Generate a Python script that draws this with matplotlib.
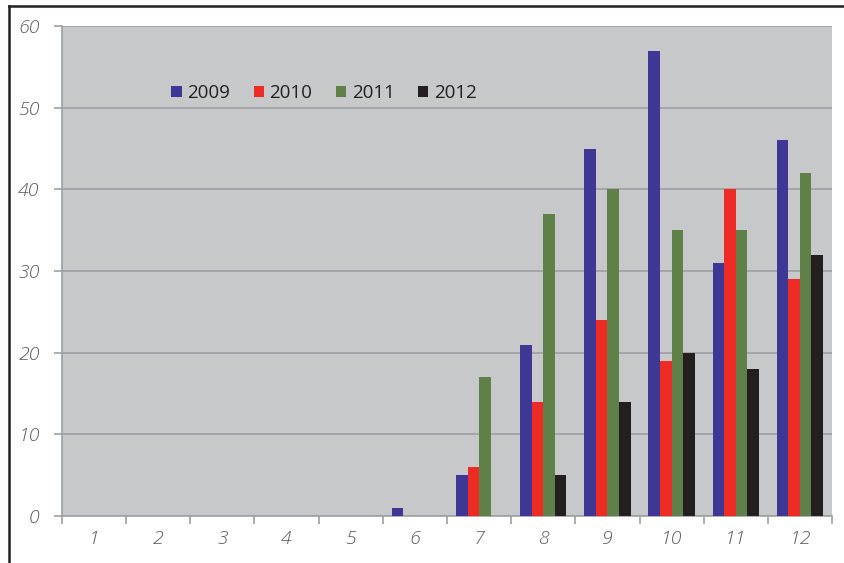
import matplotlib
matplotlib.use("Agg")
import matplotlib.pyplot as plt
from matplotlib.lines import Line2D
from matplotlib.patches import Patch
import numpy as np

# Data
months = [1, 2, 3, 4, 5, 6, 7, 8, 9, 10, 11, 12]
years = ["2009", "2010", "2011", "2012"]
v2009 = [0, 0, 0, 0, 0, 1, 5, 21, 45, 57, 31, 46]
v2010 = [0, 0, 0, 0, 0, 0, 6, 14, 24, 19, 40, 29]
v2011 = [0, 0, 0, 0, 0, 0, 17, 37, 40, 35, 35, 42]
v2012 = [0, 0, 0, 0, 0, 0, 0, 5, 14, 20, 18, 32]
series = [v2009, v2010, v2011, v2012]
colors = ["#3f3795", "#ee2a24", "#5f8049", "#231f20"]

tick_color = "#58595b"
plt.rcParams['font.family'] = ['Open Sans', 'DejaVu Sans']

fig = plt.figure(figsize=(8.45, 5.63), dpi=100)
ax = fig.add_axes([62 / 845, 47 / 563, 770 / 845, 490 / 563])
ax.set_facecolor("#c7c8ca")

x = np.arange(len(months))
w = 0.18
for i, vals in enumerate(series):
    ax.bar(x + (i - 1.5) * w, vals, width=w, color=colors[i], zorder=3)

ax.set_xlim(-0.5, len(months) - 0.5)
ax.set_ylim(0, 60)
ax.set_yticks(range(0, 61, 10))
ax.yaxis.grid(True, color="#9d9fa2", linewidth=1.2, zorder=1)
ax.set_axisbelow(True)

# category boundaries as major ticks, labels at centres
ax.set_xticks(np.arange(-0.5, len(months), 1.0))
ax.set_xticklabels([])
ax.set_xticks(x, minor=True)
ax.set_xticklabels([str(m) for m in months], minor=True)
ax.tick_params(axis="x", which="major", length=6, color="#9d9fa2", width=1.2)
ax.tick_params(axis="x", which="minor", length=0, pad=10)
ax.tick_params(axis="y", length=6, color="#9d9fa2", width=1.2, pad=10)
for lab in ax.get_xticklabels(minor=True) + ax.get_yticklabels():
    lab.set_fontstyle("italic")
    lab.set_fontweight("light")
    lab.set_color(tick_color)
    lab.set_fontsize(14)

for s in ["top", "right"]:
    ax.spines[s].set_visible(False)
for s in ["left", "bottom"]:
    ax.spines[s].set_color("#9d9fa2")
    ax.spines[s].set_linewidth(1.2)

handles = [Patch(facecolor=c, edgecolor="none") for c in colors]
leg = ax.legend(handles, years, loc="center left", bbox_to_anchor=(0.12, 0.863),
                ncol=4, frameon=False, fontsize=13.5, handlelength=0.55,
                handleheight=0.55, handletextpad=0.3, columnspacing=1.25,
                labelcolor="#231f20")
for t in leg.get_texts():
    t.set_fontweight("medium")

# outer frame lines (top and left)
fig.add_artist(Line2D([9 / 845, 1], [1 - 6 / 563, 1 - 6 / 563], color="#231f20", linewidth=1.8))
fig.add_artist(Line2D([9 / 845, 9 / 845], [0, 1 - 6 / 563], color="#231f20", linewidth=1.8))

fig.savefig("out.png", dpi=100, facecolor="white")
